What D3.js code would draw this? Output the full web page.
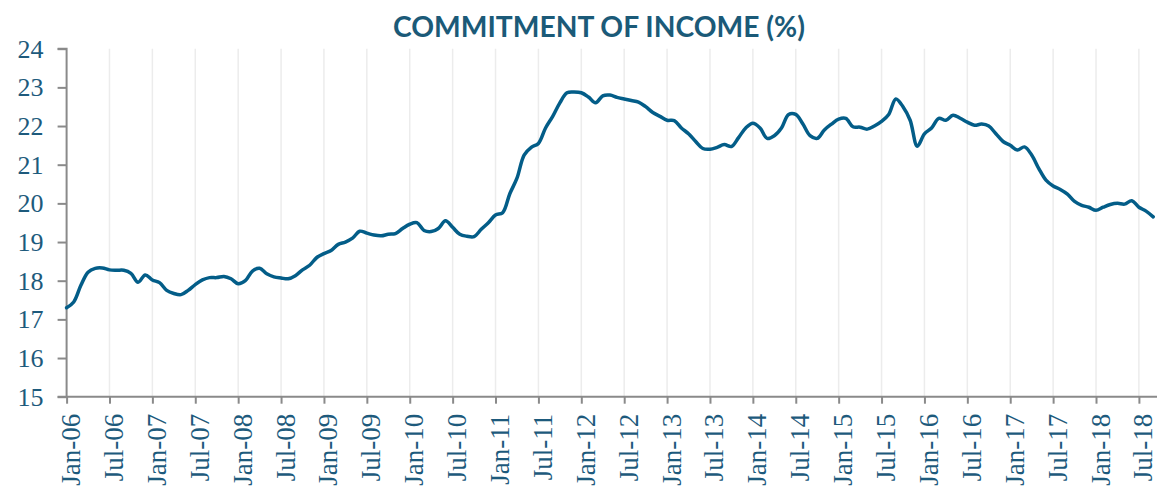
<!DOCTYPE html>
<html>
<head>
<meta charset="utf-8">
<script src="https://cdn.jsdelivr.net/npm/d3@7"></script>
<style>
  body { margin: 0; background: #fff; }
  svg { display: block; }
</style>
</head>
<body>
<svg id="chart" width="1157" height="488"></svg>
<script>
// monthly values, Jan-06 .. Sep-18
let startYear = 2006;
let values = [
  17.30, 17.45, 17.88, 18.22, 18.32, 18.33, 18.28, 18.27, 18.27, 18.19, 17.96, 18.15,
  18.02, 17.95, 17.75, 17.67, 17.64, 17.75, 17.90, 18.02, 18.08, 18.08, 18.11, 18.05,
  17.92, 18.00, 18.25, 18.32, 18.18, 18.10, 18.07, 18.05, 18.13, 18.28, 18.40, 18.60,
  18.70, 18.78, 18.94, 19.00, 19.10, 19.28, 19.23, 19.18, 19.16, 19.20, 19.22, 19.35,
  19.46, 19.50, 19.30, 19.27, 19.35, 19.55, 19.38, 19.20, 19.15, 19.14, 19.33, 19.50,
  19.70, 19.76, 20.25, 20.65, 21.25, 21.45, 21.55, 21.95, 22.25, 22.60, 22.86, 22.88,
  22.86, 22.75, 22.60, 22.78, 22.80, 22.74, 22.70, 22.66, 22.62, 22.50, 22.35, 22.25,
  22.15, 22.14, 21.95, 21.80, 21.60, 21.42, 21.40, 21.45, 21.52, 21.47, 21.70, 21.95,
  22.07, 21.95, 21.68, 21.75, 21.95, 22.30, 22.30, 22.05, 21.75, 21.68, 21.90, 22.05,
  22.18, 22.20, 21.98, 21.97, 21.92, 22.00, 22.12, 22.30, 22.70, 22.50, 22.15, 21.48,
  21.80, 21.95, 22.20, 22.15, 22.28, 22.20, 22.10, 22.02, 22.05, 22.00, 21.80, 21.60,
  21.50, 21.38, 21.46, 21.25, 20.90, 20.60, 20.45, 20.36, 20.24, 20.05, 19.95, 19.90,
  19.82, 19.90, 19.97, 20.00, 19.98, 20.07, 19.90, 19.80, 19.65
];
let yTicks = [15, 16, 17, 18, 19, 20, 21, 22, 23, 24];
let monthNames = ['Jan', 'Feb', 'Mar', 'Apr', 'May', 'Jun', 'Jul', 'Aug', 'Sep', 'Oct', 'Nov', 'Dec'];
let tickIndex = d3.range(0, 151, 6);   // every six months, Jan-06 .. Jul-18

function monthLabel(i) {
  let yr = startYear + Math.floor(i / 12);
  return monthNames[i % 12] + '-' + String(yr % 100).padStart(2, '0');
}

let svg = d3.select('#chart');
let svgWidth = 1157, svgHeight = 488;

let x = d3.scaleLinear().domain([0, 150]).range([66.6, 1138.9]);
let y = d3.scaleLinear().domain([15, 24]).range([396.7, 48.7]);

let labelColor = '#1d5a7c';
let axisColor = '#8a8a8a';

// title
let title = svg.append('text')
  .attr('x', 599)
  .attr('y', 37)
  .attr('text-anchor', 'middle')
  .style('font-family', 'Lato, "Open Sans", sans-serif')
  .style('font-weight', 'bold')
  .style('font-size', '26px')
  .style('fill', '#1b5a78')
  .text('COMMITMENT OF INCOME (%)');
let tw = title.node().getComputedTextLength();
title.style('font-size', (26 * 412 / tw).toFixed(2) + 'px');

// vertical gridlines
svg.append('g')
  .selectAll('line')
  .data(tickIndex.slice(1))
  .enter().append('line')
    .attr('x1', d => x(d)).attr('x2', d => x(d))
    .attr('y1', y(24)).attr('y2', y(15))
    .attr('stroke', '#ececec')
    .attr('stroke-width', 1.5);

// clip so the line stops at the page edge
svg.append('clipPath').attr('id', 'plotclip')
  .append('rect')
    .attr('x', x(0) - 5).attr('y', 0)
    .attr('width', svgWidth - x(0) + 5).attr('height', svgHeight);

// y axis
let yAxis = d3.axisLeft(y).tickValues(yTicks).tickSize(9).tickPadding(14);
let gy = svg.append('g')
  .attr('transform', 'translate(' + x(0) + ',0)')
  .call(yAxis);
gy.select('.domain').attr('stroke', axisColor).attr('stroke-width', 2)
  .attr('d', 'M-9,' + y(24) + 'H0V' + y(15));
gy.selectAll('.tick line').attr('stroke', axisColor).attr('stroke-width', 2);
gy.selectAll('.tick text')
  .style('font-family', '"Liberation Serif", "DejaVu Serif", serif')
  .style('font-size', '26px')
  .style('fill', labelColor);

// x axis
let xAxis = d3.axisBottom(x).tickValues(tickIndex).tickSize(7).tickFormat(monthLabel);
let gx = svg.append('g')
  .attr('transform', 'translate(0,' + y(15) + ')')
  .call(xAxis);
gx.select('.domain').attr('stroke', axisColor).attr('stroke-width', 2)
  .attr('d', 'M' + (x(0) - 9) + ',0H' + svgWidth);
gx.selectAll('.tick line').attr('stroke', axisColor).attr('stroke-width', 2);
gx.selectAll('.tick text')
  .attr('x', 0).attr('y', 0).attr('dy', null)
  .attr('text-anchor', 'end')
  .attr('transform', 'translate(13,17) rotate(-90)')
  .style('font-family', '"Liberation Serif", "DejaVu Serif", serif')
  .style('font-size', '27px')
  .style('fill', labelColor);

// the series
let line = d3.line()
  .x((d, i) => x(i))
  .y(d => y(d))
  .curve(d3.curveCatmullRom.alpha(0.5));

svg.append('path')
  .datum(values)
  .attr('clip-path', 'url(#plotclip)')
  .attr('d', line)
  .attr('fill', 'none')
  .attr('stroke', '#035d88')
  .attr('stroke-width', 3.5)
  .attr('stroke-linejoin', 'round')
  .attr('stroke-linecap', 'round');
</script>
</body>
</html>
